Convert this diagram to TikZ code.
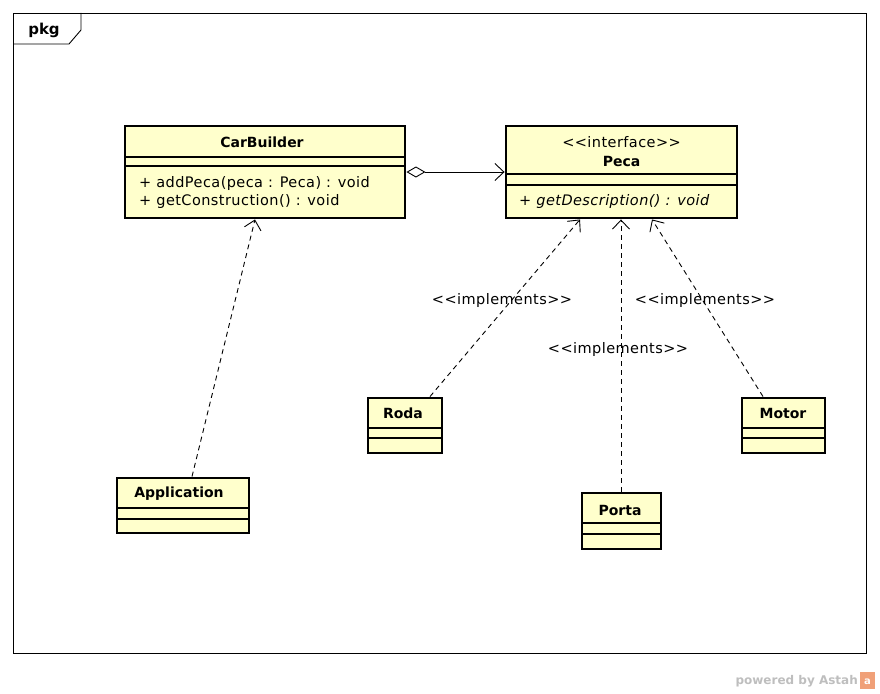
\documentclass[tikz,border=0pt]{standalone}
\usepackage{fontspec}
\setmainfont{DejaVu Sans}
\newfontfamily\umlplain[LetterSpace=3]{DejaVu Sans}
\newfontfamily\umlbold{DejaVu Sans Bold}
\newfontfamily\umlital[LetterSpace=3]{DejaVu Sans Oblique}
\usetikzlibrary{arrows.meta}
\definecolor{classfill}{RGB}{255,255,204}
\definecolor{marktext}{RGB}{190,190,190}
\definecolor{markicon}{RGB}{240,160,120}
\tikzset{
  classbox/.style={draw=black, fill=classfill, line width=2.9pt, inner sep=0pt},
  sepline/.style={line width=1.2pt},
  title/.style={inner sep=0pt, font=\umlbold\fontsize{14}{16}\selectfont},
  plain/.style={inner sep=0pt, font=\umlplain\fontsize{14.5}{16}\selectfont},
  ital/.style={inner sep=0pt, font=\umlital\fontsize{14.5}{16}\selectfont},
  realize/.style={draw, line width=0.9pt, dash pattern=on 5pt off 4pt,
    -{Straight Barb[length=9pt,width=17pt,line width=0.9pt]}},
  aggregate/.style={draw, line width=0.9pt,
    {Diamond[open,fill=white,length=19pt,width=11pt,line width=0.9pt]}-{Straight Barb[length=9pt,width=17pt,line width=0.9pt]}},
}
\begin{document}
\begin{tikzpicture}[x=1pt,y=-1pt]
\useasboundingbox (0,0) rectangle (880,693);

% package frame with its tab
\draw[line width=0.9pt] (13,13) rectangle (866,653);
\draw[line width=0.9pt] (13,44) -- (69,44) -- (81,30) -- (81,13);
\node[title, font=\umlbold\fontsize{15}{17}\selectfont] (pkgname) at (44,30) {pkg};

% CarBuilder
\node[classbox, minimum width=280pt, minimum height=92pt] (carbuilder) at (265,172) {};
\node[title] (carbuildername) at (262,142) {CarBuilder};
\draw[sepline] (125,157) -- (405,157);
\draw[sepline] (125,166) -- (405,166);
\node[plain, anchor=west] (addpeca) at (139,183) {+ addPeca(peca : Peca) : void};
\node[plain, anchor=west] (getconstruction) at (139,201) {+ getConstruction() : void};

% Peca interface
\node[classbox, minimum width=231pt, minimum height=92pt] (peca) at (621.5,172) {};
\node[plain] (pecastereo) at (621.5,142) {{<}{<}interface{>}{>}};
\node[title] (pecaname) at (621.5,161) {Peca};
\draw[sepline] (506,174) -- (737,174);
\draw[sepline] (506,185) -- (737,185);
\node[ital, anchor=west] (getdescription) at (519,201) {+ getDescription() : void};

% Roda
\node[classbox, minimum width=74pt, minimum height=55pt] (roda) at (405,425.5) {};
\node[title] (rodaname) at (403,413) {Roda};
\draw[sepline] (368,428) -- (442,428);
\draw[sepline] (368,438) -- (442,438);

% Porta
\node[classbox, minimum width=79pt, minimum height=56pt] (porta) at (621.5,521) {};
\node[title] (portaname) at (620,510) {Porta};
\draw[sepline] (582,523) -- (661,523);
\draw[sepline] (582,534) -- (661,534);

% Motor
\node[classbox, minimum width=83pt, minimum height=55pt] (motor) at (783.5,425.5) {};
\node[title] (motorname) at (783,413) {Motor};
\draw[sepline] (742,428) -- (825,428);
\draw[sepline] (742,438) -- (825,438);

% Application
\node[classbox, minimum width=132pt, minimum height=55pt] (app) at (183,505.5) {};
\node[title] (appname) at (179,494) {Application};
\draw[sepline] (117,508) -- (249,508);
\draw[sepline] (117,519) -- (249,519);

% relations
\draw[aggregate] (carbuilder.east) -- (peca.west);
\draw[realize] ([xshift=9pt]app.north) -- ([xshift=-10pt]carbuilder.south);
\draw[realize] ([xshift=25pt]roda.north) -- ([xshift=-41.5pt]peca.south);
\draw[realize] ([xshift=-0.5pt]porta.north) -- ([xshift=-0.5pt]peca.south);
\draw[realize] ([xshift=-20.5pt]motor.north) -- ([xshift=30.5pt]peca.south);

\node[plain] (implroda) at (502,300) {{<}{<}implements{>}{>}};
\node[plain] (implporta) at (618,349) {{<}{<}implements{>}{>}};
\node[plain] (implmotor) at (705,300) {{<}{<}implements{>}{>}};

% footer mark
\node[inner sep=0pt, anchor=east, text=marktext, font=\bfseries\fontsize{12}{14}\selectfont] (powered) at (858,681) {powered by Astah};
\fill[markicon] (860,672) rectangle (875,689);
\node[inner sep=0pt, text=white, font=\bfseries\fontsize{10}{11}\selectfont] (iconletter) at (867.5,682) {a};
\end{tikzpicture}
\end{document}
